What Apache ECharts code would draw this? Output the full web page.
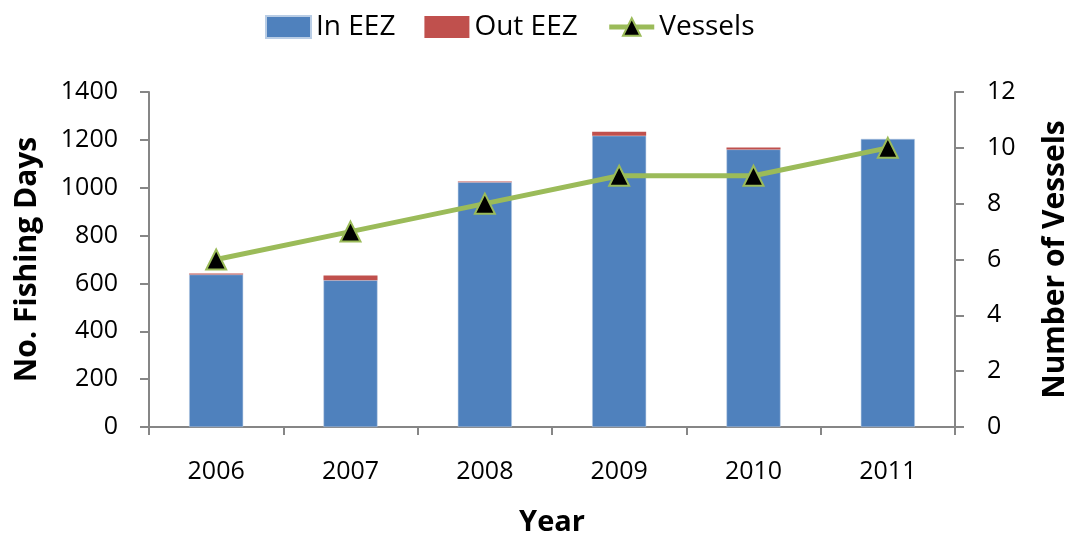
<!DOCTYPE html>
<html>
<head>
<meta charset="utf-8">
<script src="https://cdn.jsdelivr.net/npm/echarts@6/dist/echarts.min.js"></script>
<style>
  html, body { margin: 0; padding: 0; background: #fff; }
  #chart { width: 1078px; height: 542px; }
</style>
</head>
<body>
<div id="chart"></div>
<script>
// data
const years = ['2006', '2007', '2008', '2009', '2010', '2011']
const inEEZ = [637, 613, 1023, 1217, 1160, 1204]
const outEEZ = [5, 20, 3, 17, 8, 0]
const vessels = [6, 7, 8, 9, 9, 10]

const font = '"Open Sans", "Liberation Sans", sans-serif'
const axisGray = '#868686'
const green = '#9BBB59'

const chart = echarts.init(document.getElementById('chart'))

chart.setOption({
  animation: false,
  textStyle: { fontFamily: font },
  legend: {
    top: 8,
    left: 260,
    itemGap: 29,
    itemWidth: 45,
    itemHeight: 22,
    textStyle: { fontSize: 28, color: '#000', fontFamily: font },
    data: [
      { name: 'In EEZ', icon: 'rect' },
      { name: 'Out EEZ', icon: 'rect' },
      { name: 'Vessels', lineStyle: { width: 5, color: green } }
    ]
  },
  grid: { left: 149, right: 113, top: 92, bottom: 107 },
  xAxis: {
    type: 'category',
    data: years,
    name: 'Year',
    nameLocation: 'middle',
    nameGap: 81,
    nameTextStyle: { fontSize: 29, fontWeight: 'bold', color: '#000' },
    axisLine: { lineStyle: { color: axisGray, width: 2 } },
    axisTick: { show: true, length: 8, lineStyle: { color: axisGray, width: 2 } },
    axisLabel: { fontSize: 25, color: '#000', margin: 32 }
  },
  yAxis: [
    {
      type: 'value',
      min: 0, max: 1400, interval: 200,
      name: 'No. Fishing Days',
      nameLocation: 'middle',
      nameGap: 107,
      nameTextStyle: { fontSize: 30, fontWeight: 'bold', color: '#000' },
      axisLine: { show: true, lineStyle: { color: axisGray, width: 2 } },
      axisTick: { show: true, length: 9, lineStyle: { color: axisGray, width: 2 } },
      axisLabel: { fontSize: 25, color: '#000', margin: 31, formatter: v => String(v) },
      splitLine: { show: false }
    },
    {
      type: 'value',
      min: 0, max: 12, interval: 2,
      name: 'Number of Vessels',
      nameLocation: 'middle',
      nameGap: 85,
      nameRotate: 90,
      nameTextStyle: { fontSize: 30, fontWeight: 'bold', color: '#000' },
      axisLine: { show: true, lineStyle: { color: axisGray, width: 2 } },
      axisTick: { show: true, length: 9, lineStyle: { color: axisGray, width: 2 } },
      axisLabel: { fontSize: 25, color: '#000', margin: 32 },
      splitLine: { show: false }
    }
  ],
  series: [
    {
      name: 'In EEZ',
      type: 'bar',
      stack: 'days',
      barWidth: 54,
      data: inEEZ,
      itemStyle: { color: '#4F81BD', borderColor: '#B9CDE5', borderWidth: 0.5 }
    },
    {
      name: 'Out EEZ',
      type: 'bar',
      stack: 'days',
      barWidth: 54,
      data: outEEZ,
      itemStyle: { color: '#C0504D' }
    },
    {
      name: 'Vessels',
      type: 'line',
      yAxisIndex: 1,
      data: vessels,
      symbol: 'triangle',
      symbolSize: 20,
      lineStyle: { color: green, width: 5 },
      itemStyle: { color: '#000', borderColor: green, borderWidth: 2 }
    }
  ]
})
</script>
</body>
</html>
